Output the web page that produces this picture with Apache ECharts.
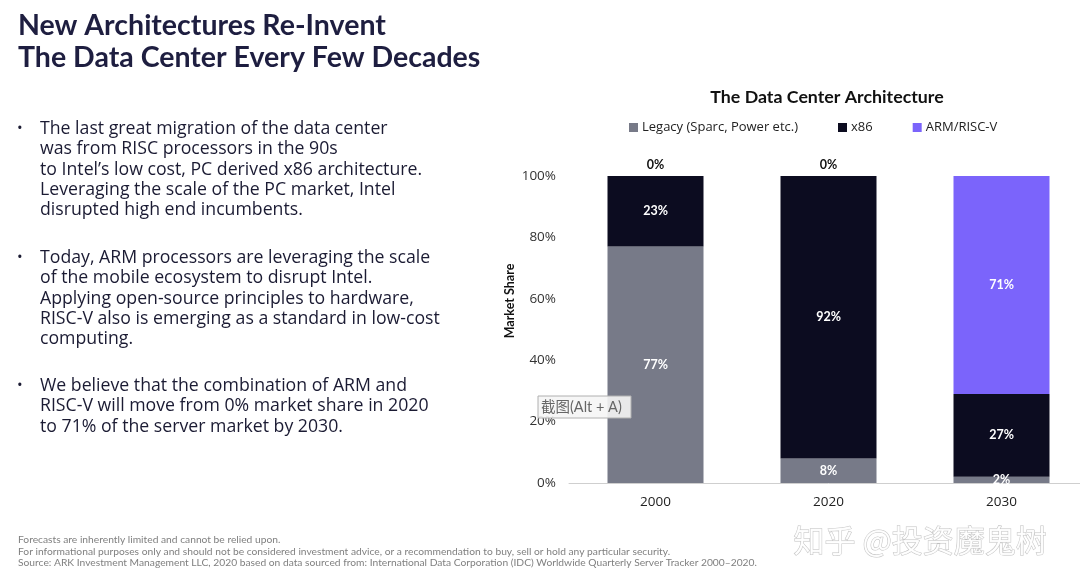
<!DOCTYPE html>
<html>
<head>
<meta charset="utf-8">
<script src="https://cdn.jsdelivr.net/npm/echarts@6/dist/echarts.min.js"></script>
<style>
html,body{margin:0;padding:0;background:#fff;overflow:hidden;width:1080px;height:586px;}
#c{width:1100px;height:586px;}
</style>
</head>
<body>
<div id="c"></div>
<script>
const categories = ['2000', '2020', '2030'];
const legacy = [77, 8, 2];
const x86 = [23, 92, 27];
const armRiscV = [0, 0, 71];
const seriesNames = ['Legacy (Sparc, Power etc.)', 'x86', 'ARM/RISC-V'];
const yTicks = [0, 20, 40, 60, 80, 100];

const titleLines = ['New Architectures Re-Invent', 'The Data Center Every Few Decades'];
const bullets = [
  ['The last great migration of the data center', 'was from RISC processors in the 90s', 'to Intel\u2019s low cost, PC derived x86 architecture.', 'Leveraging the scale of the PC market, Intel', 'disrupted high end incumbents.'],
  ['Today, ARM processors are leveraging the scale', 'of the mobile ecosystem to disrupt Intel.', 'Applying open-source principles to hardware,', 'RISC-V also is emerging as a standard in low-cost', 'computing.'],
  ['We believe that the combination of ARM and', 'RISC-V will move from 0% market share in 2020', 'to 71% of the server market by 2030.']
];
const footnotes = [
  'Forecasts are inherently limited and cannot be relied upon.',
  'For informational purposes only and should not be considered investment advice, or a recommendation to buy, sell or hold any particular security.',
  'Source: ARK Investment Management LLC, 2020 based on data sourced from: International Data Corporation (IDC) Worldwide Quarterly Server Tracker 2000\u20132020.'
];

const chart = echarts.init(document.getElementById('c'));
const FONT = 'Lato, "Noto Sans", sans-serif';
const BODY = '"Open Sans", Lato, sans-serif';
const TXT = '#1b1b33';

const graphics = [];
titleLines.forEach((t, i) => {
  graphics.push({type:'text', x:18, y:26 + i*32, style:{text:t, font:'bold 28.5px ' + FONT, fill:'#1e1e40', textVerticalAlign:'middle'}});
});
const bulletCenters = [129, 258, 386];
bullets.forEach((lines, b) => {
  graphics.push({type:'text', x:17, y:bulletCenters[b], style:{text:'\u2022', font:'15px ' + BODY, fill:TXT, textVerticalAlign:'middle'}});
  lines.forEach((l, i) => {
    graphics.push({type:'text', x:40, y:bulletCenters[b] + i*20.3, style:{text:l, font:'17.7px ' + BODY, fill:TXT, textVerticalAlign:'middle'}});
  });
});
footnotes.forEach((f, i) => {
  graphics.push({type:'text', left:18, top:535 + i*11.5, style:{text:f, font:'10.25px ' + FONT, fill:'#808080'}});
});
graphics.push({type:'text', x:827, y:88, style:{text:'The Data Center Architecture', font:'bold 17.8px ' + FONT, fill:'#111', textAlign:'center'}});
graphics.push({type:'text', x:510, y:301, rotation:Math.PI/2, style:{text:'Market Share', font:'bold 12.5px ' + FONT, fill:'#111', textAlign:'center', textVerticalAlign:'middle'}});
// watermark
graphics.push({type:'text', left:793, top:524, z:100, style:{text:'知乎 @投资魔鬼树', font:'31px "Noto Sans CJK SC"', fill:'rgba(255,255,255,0.9)', stroke:'rgba(150,150,150,0.6)', lineWidth:1, shadowColor:'rgba(0,0,0,0.25)', shadowBlur:2, shadowOffsetX:1, shadowOffsetY:1}});
// screenshot hint box
graphics.push({type:'rect', z:100, shape:{x:538, y:396, width:93, height:22}, style:{fill:'rgba(245,245,245,0.9)', stroke:'#b0b0b0', lineWidth:1}});
graphics.push({type:'text', z:101, x:541, y:407, style:{text:'截图(Alt + A)', font:'14.5px Lato, "Noto Sans CJK SC"', fill:'#666', textVerticalAlign:'middle'}});

const labelFor = (val, color) => ({
  show: true,
  position: val === 0 ? 'top' : 'inside',
  formatter: val + '%',
  color: val === 0 ? '#111' : color,
  fontWeight: 'bold',
  fontSize: 12.5,
  fontFamily: FONT
});

const mk = (name, data, color, labelColor) => ({
  name, type:'bar', stack:'total', barWidth:96,
  itemStyle:{color},
  data: data.map(v => ({value:v, label:labelFor(v, labelColor)})),
  emphasis:{disabled:true}
});

chart.setOption({
  animation:false,
  graphic: graphics,
  legend:{
    left:624, top:116, itemWidth:9, itemHeight:9, itemGap:40, icon:'rect',
    textStyle:{fontSize:13, color:'#222', fontFamily:BODY, padding:[0,0,0,-1]},
    data: seriesNames
  },
  grid:{left:569, width:519, top:176, bottom:103, containLabel:false},
  xAxis:{
    type:'category', data:categories,
    axisLine:{lineStyle:{color:'#cfcfcf'}}, axisTick:{show:false},
    axisLabel:{fontSize:13.5, color:'#222', fontFamily:BODY, margin:12}
  },
  yAxis:{
    type:'value', min:0, max:100, interval:20,
    axisLabel:{formatter: v => yTicks.includes(v) ? v + '%' : '', fontSize:13.5, color:'#333', fontFamily:BODY, margin:13},
    splitLine:{show:false}, axisLine:{show:false}, axisTick:{show:false}
  },
  series:[
    mk(seriesNames[0], legacy, '#777a88', '#fff'),
    mk(seriesNames[1], x86, '#0c0c20', '#fff'),
    mk(seriesNames[2], armRiscV, '#7b64fb', '#fff')
  ]
});
</script>
</body>
</html>
